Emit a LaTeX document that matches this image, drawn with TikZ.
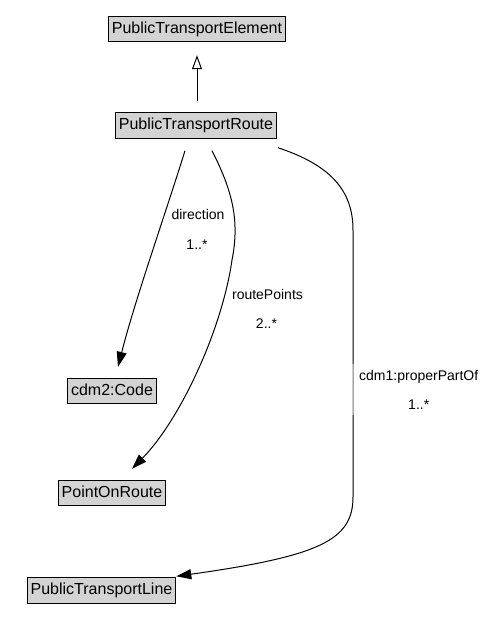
\documentclass[tikz,border=0pt]{standalone}
\usepackage{fontspec}
\setmainfont{Liberation Sans}
\usetikzlibrary{arrows.meta,calc}
\definecolor{boxgray}{RGB}{211,211,211}
\begin{document}
\begin{tikzpicture}[x=1pt,y=-1pt,
  cls/.style={draw=black, fill=boxgray, line width=0.9pt, inner xsep=3.5pt, inner ysep=5pt,
              text height=12pt, text depth=3.5pt, font=\fontsize{16}{19}\selectfont},
  lbl/.style={font=\fontsize{14}{17}\selectfont, anchor=base, inner sep=0pt},
  assoc/.style={draw=black, line width=1pt, -{Triangle[length=15pt,width=10pt]}},
  gen/.style={draw=black, line width=1pt, -{Triangle[open,length=14pt,width=10pt,fill=white]}}]
\useasboundingbox (0,0) rectangle (492,641);

% classes
\node[cls] (pte)  at (197,29)    {PublicTransportElement};
\node[cls] (ptr)  at (196,125.5) {PublicTransportRoute};
\node[cls] (code) at (112,391)   {cdm2:Code};
\node[cls] (por)  at (112,493)   {PointOnRoute};
\node[cls] (ptl)  at (101.5,590.5) {PublicTransportLine};

% connector end points
\coordinate (genS) at ($(ptr.north)+(1,-11)$);
\coordinate (genE) at ($(pte.south)+(0,13)$);
\coordinate (dirS) at ($(ptr.south)+(-11,12)$);
\coordinate (dirE) at ($(code.north)+(6,-11)$);
\coordinate (rpS)  at ($(ptr.south)+(16,12)$);
\coordinate (rpE)  at ($(por.north)+(20,-11)$);
\coordinate (ppS)  at ($(ptr.south east)+(1,9)$);
\coordinate (ppE)  at ($(ptl.north east)+(0,-1)$);

% connectors
\draw[gen] (genS) -- (genE);
\draw[assoc] (dirS) .. controls (165,215) and (135,300) .. (dirE);
\draw[assoc] (rpS) .. controls (232,190) and (240,220) .. (232,260)
                   .. controls (222,330) and (180,420) .. (rpE);
\draw[assoc] (ppS) .. controls (330,165) and (353,190) .. (353,230)
                   -- (353,497) .. controls (353,540) and (320,556) .. (ppE);

% labels
\node[lbl] (dirL) at (198,219) {direction};
\node[lbl] (dirM) at (197,249) {1..*};
\node[lbl] (rpL)  at (267.5,299) {routePoints};
\node[lbl] (rpM)  at (266.5,328) {2..*};
\node[anchor=north west, align=center, fill=white, fill opacity=0.45, text opacity=1,
      inner xsep=9pt, inner ysep=6pt, font=\fontsize{14}{29}\selectfont]
      (ppL) at (350,364) {cdm1:properPartOf\\1..*};
\end{tikzpicture}
\end{document}
